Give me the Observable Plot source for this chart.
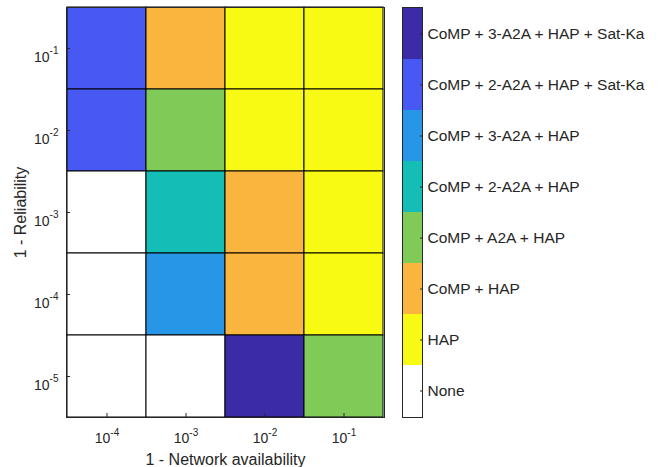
<!DOCTYPE html>
<html><head><meta charset="utf-8">
<script src="https://cdn.jsdelivr.net/npm/d3@7"></script>
<script src="https://cdn.jsdelivr.net/npm/@observablehq/plot@0.6"></script>
<style>
body{margin:0;background:#fff;}
#wrap{position:relative;width:661px;height:467px;font-family:"Liberation Sans",Arial,sans-serif;}
#main,#cbar{position:absolute;top:0;}
#main{left:0}
#cbar{left:395px}
svg{overflow:visible}
</style></head><body><div id="wrap"><div id="main"></div><div id="cbar"></div></div>
<script>
// Legend categories (bottom to top of the colour bar)
const categories = ["None","HAP","CoMP + HAP","CoMP + A2A + HAP","CoMP + 2-A2A + HAP","CoMP + 3-A2A + HAP","CoMP + 2-A2A + HAP + Sat-Ka","CoMP + 3-A2A + HAP + Sat-Ka"];
const colors = ["#ffffff","#f8fa14","#f9b53d","#80cb58","#14bdb6","#2896e7","#4859f3","#3c2ba6"];
// x: 1 - Network availability (exponent of 10)
const xExponents = [-4,-3,-2,-1];
// y: 1 - Reliability (exponent of 10), top to bottom
const yExponents = [-1,-2,-3,-4,-5];
// chosen configuration per row (y) and column (x)
const row1e1 = ["CoMP + 2-A2A + HAP + Sat-Ka","CoMP + HAP","HAP","HAP"];
const row1e2 = ["CoMP + 2-A2A + HAP + Sat-Ka","CoMP + A2A + HAP","HAP","HAP"];
const row1e3 = ["None","CoMP + 2-A2A + HAP","CoMP + HAP","HAP"];
const row1e4 = ["None","CoMP + 3-A2A + HAP","CoMP + HAP","HAP"];
const row1e5 = ["None","None","CoMP + 3-A2A + HAP + Sat-Ka","CoMP + A2A + HAP"];
const rows = [row1e1,row1e2,row1e3,row1e4,row1e5];

const cells = [];
rows.forEach((r,yi)=>r.forEach((cat,xi)=>cells.push({x:xExponents[xi], y:yExponents[yi], cat})));

const textColor = "#262626";
const font = '"Liberation Sans",Arial,sans-serif';
const colorScale = {domain:categories, range:colors};

const main = Plot.plot({
  width:395, height:467, marginLeft:66, marginRight:11, marginTop:7, marginBottom:50,
  style:{fontFamily:font, fontSize:"14px", color:textColor, background:"white"},
  x:{type:"band", domain:xExponents, padding:0},
  y:{type:"band", domain:yExponents, padding:0},
  color:colorScale,
  marks:[
    Plot.cell(cells, {x:"x", y:"y", fill:"cat", stroke:"black", strokeWidth:1}),
    Plot.frame({stroke:textColor}),
    Plot.axisX({ticks:xExponents, tickFormat:d=>"10^"+d, tickSize:-4, tickPadding:20, fontSize:14, label:"1 - Network availability", labelAnchor:"center", labelArrow:"none", labelOffset:47}),
    Plot.axisY({ticks:yExponents, tickFormat:d=>"10^"+d, tickSize:-4, tickPadding:12, fontSize:14, label:"1 - Reliability", labelAnchor:"center", labelArrow:"none", labelOffset:52})
  ]
});

const cb = Plot.plot({
  width:266, height:467, marginLeft:7, marginRight:239, marginTop:7, marginBottom:50,
  style:{fontFamily:font, fontSize:"15.5px", color:textColor, background:"transparent"},
  x:{type:"band", domain:["bar"], padding:0, axis:null},
  y:{type:"band", domain:categories.slice().reverse(), padding:0},
  color:colorScale,
  marks:[
    Plot.cell(categories, {x:()=>"bar", y:d=>d, fill:d=>d}),
    Plot.frame({stroke:textColor}),
    Plot.axisY({anchor:"right", tickSize:-3, tickPadding:8, label:null, fontSize:15.5})
  ]
});

document.getElementById("main").appendChild(main);
document.getElementById("cbar").appendChild(cb);

// superscript exponents in tick labels
function sup(selector, raise){
  d3.select(main).selectAll(selector).each(function(){
    const t = this.textContent;
    const m = t.match(/^10\^(.*)$/);
    if(!m) return;
    const sel = d3.select(this);
    sel.attr("font-size","14px");
    sel.text("10");
    sel.append("tspan").attr("dy", -raise + "px").attr("font-size","10px").text(m[1]);
  });
}
sup('g[aria-label="x-axis tick label"] text', 7);
sup('g[aria-label="y-axis tick label"] text', 8);
d3.select(main).selectAll('g[aria-label="y-axis tick label"] text').attr("dy","0.65em");
d3.select(main).selectAll('g[aria-label="x-axis label"] text, g[aria-label="y-axis label"] text').attr("font-size","16px");
d3.select(cb).selectAll('g[aria-label="y-axis tick label"] text').attr("font-size","15.5px");
</script>
</body></html>
